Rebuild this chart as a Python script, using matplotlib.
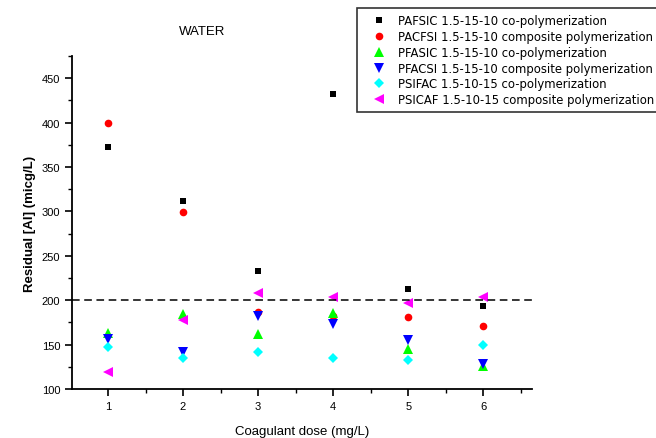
import matplotlib
matplotlib.use("Agg")
import matplotlib.pyplot as plt
from matplotlib.ticker import MultipleLocator

doses = [1, 2, 3, 4, 5, 6]
pafsic = [373, 312, 233, 432, 213, 194]
pacfsi = [400, 299, 187, 182, 181, 171]
pfasic = [163, 184, 162, 186, 145, 126]
pfacsi = [156, 142, 182, 173, 155, 128]
psifac = [147, 135, 142, 135, 133, 150]
psicaf = [119, 178, 208, 204, 197, 204]
threshold = 200

labels = [
    "PAFSIC 1.5-15-10 co-polymerization",
    "PACFSI 1.5-15-10 composite polymerization",
    "PFASIC 1.5-15-10 co-polymerization",
    "PFACSI 1.5-15-10 composite polymerization",
    "PSIFAC 1.5-10-15 co-polymerization",
    "PSICAF 1.5-10-15 composite polymerization",
]
series = [pafsic, pacfsi, pfasic, pfacsi, psifac, psicaf]
markers = ["s", "o", "^", "v", "D", "<"]
colors = ["#000000", "#ff0000", "#00ff00", "#0000ff", "#00ffff", "#ff00ff"]
sizes = [5, 5.5, 6.5, 6.5, 5, 6.5]

plt.rcParams["font.family"] = ["Liberation Sans", "DejaVu Sans"]

fig = plt.figure(figsize=(6.56, 4.39), dpi=100)
ax = fig.add_axes([72/656, 1-390/439, (532-72)/656, (390-57)/439])

for y, m, c, lab, s in zip(series, markers, colors, labels, sizes):
    ax.plot(doses, y, linestyle="none", marker=m, color=c, markersize=s,
            markeredgewidth=0, label=lab)

ax.axhline(threshold, color="black", linestyle=(0, (5, 3)), linewidth=1.1)

ax.set_xlim(0.52, 6.65)
ax.set_ylim(100, 475)
ax.xaxis.set_major_locator(MultipleLocator(1))
ax.xaxis.set_minor_locator(MultipleLocator(0.5))
ax.yaxis.set_major_locator(MultipleLocator(50))
ax.yaxis.set_minor_locator(MultipleLocator(25))
ax.set_yticks([100, 150, 200, 250, 300, 350, 400, 450])
ax.set_xticks([1, 2, 3, 4, 5, 6])

ax.spines["top"].set_visible(False)
ax.spines["right"].set_visible(False)
for sp in ("left", "bottom"):
    ax.spines[sp].set_linewidth(1.3)
ax.tick_params(which="major", direction="out", length=5, width=1.2, labelsize=8)
ax.tick_params(which="minor", direction="out", length=3, width=1.0)

ax.set_xlabel("Coagulant dose (mg/L)", fontsize=9.5, labelpad=10)
ax.set_ylabel("Residual [Al] (micg/L)", fontsize=9.5, fontweight="bold", labelpad=4)

fig.text(202/656, 1-32/439, "WATER", ha="center", va="center", fontsize=9.5)

leg = ax.legend(loc="upper left", bbox_to_anchor=(357/656, 1-9/439),
                bbox_transform=fig.transFigure, frameon=True, fancybox=False,
                edgecolor="black", prop={"family": "DejaVu Sans", "size": 8.4},
                handletextpad=0.35, borderpad=0.5, labelspacing=0.25,
                handlelength=2.7, borderaxespad=0)
leg.get_frame().set_linewidth(1.2)

fig.savefig("out.png", dpi=100)
